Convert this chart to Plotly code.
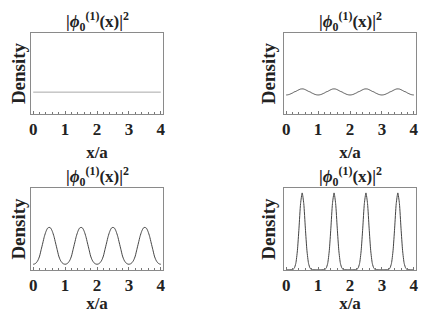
import plotly.graph_objects as go

x_grid = [0.0, 0.05, 0.1, 0.15, 0.2, 0.25, 0.3, 0.35, 0.4, 0.45,
          0.5, 0.55, 0.6, 0.65, 0.7, 0.75, 0.8, 0.85, 0.9, 0.95,
          1.0, 1.05, 1.1, 1.15, 1.2, 1.25, 1.3, 1.35, 1.4, 1.45,
          1.5, 1.55, 1.6, 1.65, 1.7, 1.75, 1.8, 1.85, 1.9, 1.95,
          2.0, 2.05, 2.1, 2.15, 2.2, 2.25, 2.3, 2.35, 2.4, 2.45,
          2.5, 2.55, 2.6, 2.65, 2.7, 2.75, 2.8, 2.85, 2.9, 2.95,
          3.0, 3.05, 3.1, 3.15, 3.2, 3.25, 3.3, 3.35, 3.4, 3.45,
          3.5, 3.55, 3.6, 3.65, 3.7, 3.75, 3.8, 3.85, 3.9, 3.95, 4.0]

density_flat_x = [0.0, 4.0]
density_flat = [0.27, 0.27]

density_weak = [0.235, 0.237, 0.242, 0.251, 0.26, 0.2725, 0.279, 0.29, 0.30, 0.308,
                0.31, 0.308, 0.30, 0.29, 0.279, 0.2725, 0.26, 0.251, 0.242, 0.237,
                0.235, 0.237, 0.242, 0.251, 0.26, 0.2725, 0.279, 0.29, 0.30, 0.308,
                0.31, 0.308, 0.30, 0.29, 0.279, 0.2725, 0.26, 0.251, 0.242, 0.237,
                0.235, 0.237, 0.242, 0.251, 0.26, 0.2725, 0.279, 0.29, 0.30, 0.308,
                0.31, 0.308, 0.30, 0.29, 0.279, 0.2725, 0.26, 0.251, 0.242, 0.237,
                0.235, 0.237, 0.242, 0.251, 0.26, 0.2725, 0.279, 0.29, 0.30, 0.308,
                0.31, 0.308, 0.30, 0.29, 0.279, 0.2725, 0.26, 0.251, 0.242, 0.237,
                0.235]

density_mid = [0.07, 0.075, 0.09, 0.12, 0.17, 0.25, 0.33, 0.41, 0.47, 0.51,
               0.52, 0.51, 0.47, 0.41, 0.33, 0.25, 0.17, 0.12, 0.09, 0.075,
               0.07, 0.075, 0.09, 0.12, 0.17, 0.25, 0.33, 0.41, 0.47, 0.51,
               0.52, 0.51, 0.47, 0.41, 0.33, 0.25, 0.17, 0.12, 0.09, 0.075,
               0.07, 0.075, 0.09, 0.12, 0.17, 0.25, 0.33, 0.41, 0.47, 0.51,
               0.52, 0.51, 0.47, 0.41, 0.33, 0.25, 0.17, 0.12, 0.09, 0.075,
               0.07, 0.075, 0.09, 0.12, 0.17, 0.25, 0.33, 0.41, 0.47, 0.51,
               0.52, 0.51, 0.47, 0.41, 0.33, 0.25, 0.17, 0.12, 0.09, 0.075,
               0.07]

density_strong = [0.003, 0.003, 0.003, 0.004, 0.004, 0.02, 0.08, 0.235, 0.51, 0.81,
                  0.94, 0.81, 0.51, 0.235, 0.08, 0.02, 0.004, 0.004, 0.003, 0.003,
                  0.003, 0.003, 0.003, 0.004, 0.004, 0.02, 0.08, 0.235, 0.51, 0.81,
                  0.94, 0.81, 0.51, 0.235, 0.08, 0.02, 0.004, 0.004, 0.003, 0.003,
                  0.003, 0.003, 0.003, 0.004, 0.004, 0.02, 0.08, 0.235, 0.51, 0.81,
                  0.94, 0.81, 0.51, 0.235, 0.08, 0.02, 0.004, 0.004, 0.003, 0.003,
                  0.003, 0.003, 0.003, 0.004, 0.004, 0.02, 0.08, 0.235, 0.51, 0.81,
                  0.94, 0.81, 0.51, 0.235, 0.08, 0.02, 0.004, 0.004, 0.003, 0.003,
                  0.003]

tick_vals = [0, 1, 2, 3, 4]
tick_text = ["0", "1", "2", "3", "4"]
panel_title = "|<i>ϕ</i><sub>0</sub><sup>(1)</sup>(x)|<sup>2</sup>"
x_title = "x/a"
y_title = "Density"

# window is 433x321; the page body has an 8px default margin, so the figure
# is made 16px smaller and all window positions are shifted by 8px.
OFF = 8
W, H = 433 - 2 * OFF, 321 - 2 * OFF
FONT = "Liberation Serif"

panels = [
    dict(x=density_flat_x, y=density_flat, color="#a8a8a8", px=(31, 163), py=(33, 114)),
    dict(x=x_grid, y=density_weak, color="#555555", px=(284, 416), py=(33, 114)),
    dict(x=x_grid, y=density_mid, color="#444444", px=(31, 163), py=(188, 270)),
    dict(x=x_grid, y=density_strong, color="#444444", px=(284, 416), py=(188, 270)),
]

fig = go.Figure()
annotations = []
for i, p in enumerate(panels):
    n = "" if i == 0 else str(i + 1)
    xa, ya = "x" + n, "y" + n
    fig.add_trace(go.Scatter(x=p["x"], y=p["y"], mode="lines",
                             line=dict(color=p["color"], width=1, shape="spline", smoothing=0.6),
                             xaxis=xa, yaxis=ya, showlegend=False, hoverinfo="skip"))
    x0, x1 = (p["px"][0] - OFF) / W, (p["px"][1] - OFF) / W
    y0, y1 = (H - (p["py"][1] - OFF)) / H, (H - (p["py"][0] - OFF)) / H
    fig.layout["xaxis" + n] = dict(
        domain=[x0, x1], anchor=ya, range=[-0.07, 4.07], automargin=False,
        tickvals=tick_vals, ticktext=tick_text, ticks="inside", ticklen=3,
        tickcolor="#777", showline=True, linecolor="#8a8a8a", linewidth=1, mirror=True,
        showgrid=False, zeroline=False,
        minor=dict(dtick=0.2, tick0=0, ticks="inside", ticklen=2, tickcolor="#777", showgrid=False),
        tickfont=dict(family=FONT, size=17, color="#222", weight="bold"),
        title=dict(text="<b>" + x_title + "</b>", font=dict(family=FONT, size=17, color="#222"), standoff=7),
    )
    fig.layout["yaxis" + n] = dict(
        domain=[y0, y1], anchor=xa, range=[0, 1], showticklabels=False, ticks="",
        automargin=False,
        showline=True, linecolor="#8a8a8a", linewidth=1, mirror=True,
        showgrid=False, zeroline=False,
        title=dict(text="<b>" + y_title + "</b>", font=dict(family=FONT, size=19, color="#222"), standoff=2),
    )
    annotations.append(dict(
        text="<b>" + panel_title + "</b>", xref="paper", yref="paper",
        x=(x0 + x1) / 2, y=y1, xanchor="center", yanchor="bottom", yshift=-3,
        showarrow=False, font=dict(family=FONT, size=17, color="#222")))

fig.update_layout(width=W, height=H, margin=dict(l=0, r=0, t=0, b=0),
                  paper_bgcolor="white", plot_bgcolor="white",
                  annotations=annotations)
fig.write_html("out.html")
